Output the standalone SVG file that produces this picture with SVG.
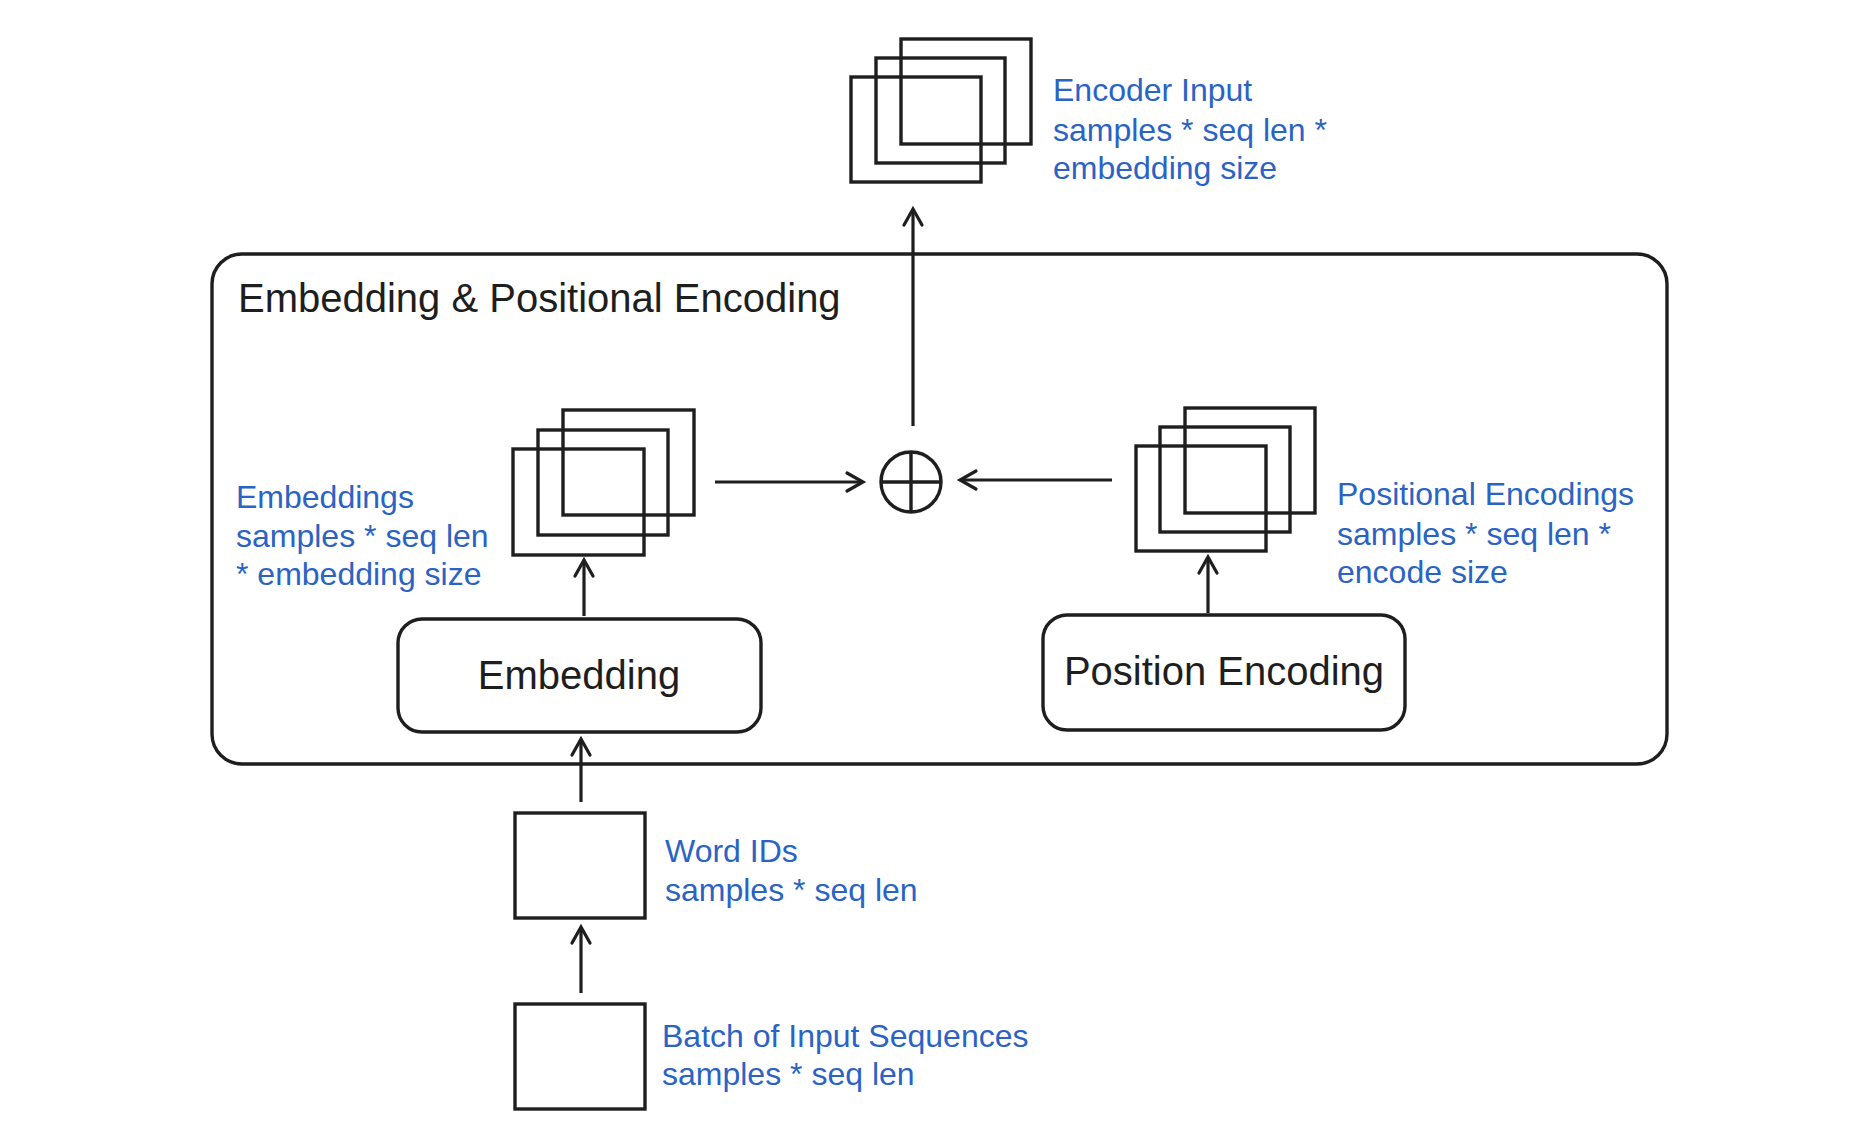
<svg xmlns="http://www.w3.org/2000/svg" width="1860" height="1134" viewBox="0 0 1860 1134">
<style>
.s{fill:none;stroke:#1e1e1e;stroke-width:3.4;stroke-linejoin:round}
.w{fill:none;stroke:#1e1e1e;stroke-width:3.4}
.b{font-family:"Liberation Sans",sans-serif;font-size:32px;fill:#2a63c4}
.k{font-family:"Liberation Sans",sans-serif;font-size:40px;fill:#1e1e1e}
.c{stroke:#1e1e1e;stroke-width:3.2;fill:none;marker-end:url(#a)}
</style>
<defs><marker id="a" markerWidth="24" markerHeight="24" refX="20" refY="12" orient="auto" markerUnits="userSpaceOnUse"><path d="M4,3 L20,12 L4,21" fill="none" stroke="#1e1e1e" stroke-width="3.2" stroke-linecap="round"/></marker></defs>
<rect width="1860" height="1134" fill="#fff"/>
<g transform="translate(0,0)">
<g id="group"><rect class="s" x="212" y="254" width="1455" height="510" rx="30"/>
<text class="k" x="238" y="312">Embedding &amp; Positional Encoding</text></g>
<g id="encoder-input"><rect class="w" x="901" y="39" width="130" height="105"/><rect class="w" x="876" y="58" width="129" height="105"/><rect class="w" x="851" y="77" width="130" height="105"/>
<text class="b" x="1053" y="101">Encoder Input</text><text class="b" x="1053" y="141">samples * seq len *</text><text class="b" x="1053" y="179">embedding size</text></g>
<g id="embeddings"><rect class="w" x="563" y="410" width="131" height="105"/><rect class="w" x="538" y="430" width="130" height="105"/><rect class="w" x="513" y="449" width="131" height="106"/>
<text class="b" x="236" y="508">Embeddings</text><text class="b" x="236" y="547">samples * seq len</text><text class="b" x="236" y="585">* embedding size</text></g>
<g id="plus"><circle class="s" cx="911" cy="482" r="30"/><path class="s" d="M881,482H941M911,452V512"/></g>
<g id="positional-encodings"><rect class="w" x="1185" y="408" width="130" height="105"/><rect class="w" x="1160" y="427" width="130" height="105"/><rect class="w" x="1136" y="446" width="130" height="105"/>
<text class="b" x="1337" y="505">Positional Encodings</text><text class="b" x="1337" y="545">samples * seq len *</text><text class="b" x="1337" y="583">encode size</text></g>
<g id="embedding"><rect class="s" x="398" y="619" width="363" height="113" rx="24"/><text class="k" x="579" y="689" text-anchor="middle">Embedding</text></g>
<g id="position-encoding"><rect class="s" x="1043" y="615" width="362" height="115" rx="24"/><text class="k" x="1224" y="685" text-anchor="middle">Position Encoding</text></g>
<g id="word-ids"><rect class="w" x="515" y="813" width="130" height="105"/><text class="b" x="665" y="862">Word IDs</text><text class="b" x="665" y="901">samples * seq len</text></g>
<g id="batch"><rect class="w" x="515" y="1004" width="130" height="105"/><text class="b" x="662" y="1047">Batch of Input Sequences</text><text class="b" x="662" y="1085">samples * seq len</text></g>
<g id="connectors">
<path class="c" d="M715,482H863"/><path class="c" d="M1112,480H960"/><path class="c" d="M913,426V209"/>
<path class="c" d="M584,616V560"/><path class="c" d="M1208,613V557"/><path class="c" d="M581,802V739"/><path class="c" d="M581,993V927"/>
</g>
</g>
</svg>
